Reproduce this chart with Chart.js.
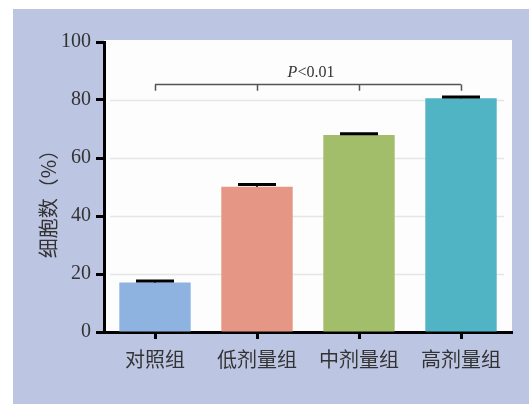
<!DOCTYPE html>
<html>
<head>
<meta charset="utf-8">
<script src="https://cdn.jsdelivr.net/npm/chart.js@4/dist/chart.umd.min.js"></script>
<style>
  html, body { margin: 0; padding: 0; background: #fff; overflow: hidden; }
  #wrap { width: 529px; height: 404px; position: relative; }
</style>
</head>
<body>
<div id="wrap"><canvas id="c" width="529" height="404"></canvas></div>
<script>
// Cell percentage per group (mean and SD)
const categories = ['对照组', '低剂量组', '中剂量组', '高剂量组'];
const cellPercent = [17.1, 50.1, 67.9, 80.6];
const cellSD = [0.5, 0.8, 0.5, 0.4];
const yTickValues = [0, 20, 40, 60, 80, 100];
const yTitle = '细胞数（%）';
const sigPrefix = 'P';
const sigRest = '<0.01';

const barColors = ['#8EB3E0', '#E69685', '#A3BE6A', '#50B4C5'];
const serif = '"Liberation Serif", "DejaVu Serif", serif';
const cjk = '"Noto Sans CJK SC", sans-serif';

// Panel background, plot backdrop and light horizontal grid lines
const backdrop = {
  id: 'backdrop',
  beforeDraw(chart) {
    const { ctx, chartArea: a, scales: { y } } = chart;
    ctx.save();
    ctx.fillStyle = '#ffffff';
    ctx.fillRect(0, 0, chart.width, chart.height);
    ctx.fillStyle = '#BCC5E2';
    ctx.fillRect(13, 9, chart.width - 13, chart.height - 9);
    ctx.fillStyle = '#FDFDFD';
    ctx.fillRect(a.left, a.top - 2, a.right - a.left, a.bottom - a.top + 2);
    ctx.strokeStyle = '#E6E6E6';
    ctx.lineWidth = 1.5;
    yTickValues.filter(v => v > 0 && v < 100).forEach(v => {
      const py = Math.round(y.getPixelForValue(v)) + 0.5;
      ctx.beginPath();
      ctx.moveTo(a.left + 6, py);
      ctx.lineTo(a.right - 8, py);
      ctx.stroke();
    });
    // rotated y-axis title
    ctx.translate(48, 199);
    ctx.rotate(-Math.PI / 2);
    ctx.fillStyle = '#333';
    ctx.font = '20px ' + cjk;
    ctx.textAlign = 'center';
    ctx.textBaseline = 'middle';
    ctx.fillText(yTitle, 0, 0);
    ctx.restore();
  }
};

// Error-bar caps and the significance bracket
const annotations = {
  id: 'annotations',
  afterDatasetsDraw(chart) {
    const { ctx, scales: { x, y } } = chart;
    const meta = chart.getDatasetMeta(0);
    ctx.save();
    ctx.strokeStyle = '#000';
    meta.data.forEach((bar, i) => {
      const top = y.getPixelForValue(cellPercent[i] + cellSD[i]);
      ctx.lineWidth = 2;
      ctx.beginPath();
      ctx.moveTo(bar.x, bar.y);
      ctx.lineTo(bar.x, top);
      ctx.stroke();
      ctx.lineWidth = 3;
      ctx.beginPath();
      ctx.moveTo(bar.x - 19, top);
      ctx.lineTo(bar.x + 19, top);
      ctx.stroke();
    });

    const xs = categories.map((_, i) => x.getPixelForValue(i));
    const yLine = Math.round(y.getPixelForValue(85.4)) + 0.5;
    const yDrop = y.getPixelForValue(83.2);
    ctx.strokeStyle = '#555';
    ctx.lineWidth = 1.5;
    ctx.beginPath();
    ctx.moveTo(xs[0], yLine);
    ctx.lineTo(xs[xs.length - 1], yLine);
    xs.forEach(px => {
      ctx.moveTo(Math.round(px) + 0.5, yLine);
      ctx.lineTo(Math.round(px) + 0.5, yDrop);
    });
    ctx.stroke();

    const fontItalic = 'italic 16px ' + serif;
    const fontPlain = '16px ' + serif;
    ctx.font = fontItalic;
    const w1 = ctx.measureText(sigPrefix).width;
    ctx.font = fontPlain;
    const w2 = ctx.measureText(sigRest).width;
    const cx = (xs[0] + xs[xs.length - 1]) / 2 + 3;
    const ty = y.getPixelForValue(89.4);
    let sx = cx - (w1 + w2) / 2;
    ctx.fillStyle = '#333';
    ctx.textBaseline = 'middle';
    ctx.textAlign = 'left';
    ctx.font = fontItalic;
    ctx.fillText(sigPrefix, sx, ty);
    ctx.font = fontPlain;
    ctx.fillText(sigRest, sx + w1, ty);
    ctx.restore();
  }
};

new Chart(document.getElementById('c'), {
  type: 'bar',
  data: {
    labels: categories,
    datasets: [{
      data: cellPercent,
      backgroundColor: barColors,
      borderWidth: 0,
      barPercentage: 0.7,
      categoryPercentage: 1.0
    }]
  },
  options: {
    responsive: false,
    animation: false,
    devicePixelRatio: 1,
    layout: { padding: { left: 0, right: 17, top: 42, bottom: 0 } },
    plugins: { legend: { display: false }, tooltip: { enabled: false } },
    scales: {
      x: {
        grid: {
          offset: false,
          drawOnChartArea: false,
          drawTicks: true,
          tickLength: 7,
          tickWidth: 3,
          tickColor: '#000'
        },
        border: { display: true, color: '#000', width: 3 },
        ticks: {
          color: '#333',
          font: { family: cjk, size: 20 },
          padding: 8,
          maxRotation: 0,
          autoSkip: false
        },
        afterFit(s) { s.height = 72; }
      },
      y: {
        min: 0,
        max: 100,
        afterBuildTicks(s) { s.ticks = yTickValues.map(v => ({ value: v })); },
        grid: {
          drawOnChartArea: false,
          drawTicks: true,
          tickLength: 8,
          tickWidth: 3,
          tickColor: '#000'
        },
        border: { display: true, color: '#000', width: 3 },
        ticks: {
          color: '#333',
          font: { family: serif, size: 20 },
          padding: 5
        },
        afterFit(s) { s.width = 104; }
      }
    }
  },
  plugins: [backdrop, annotations]
});
</script>
</body>
</html>
